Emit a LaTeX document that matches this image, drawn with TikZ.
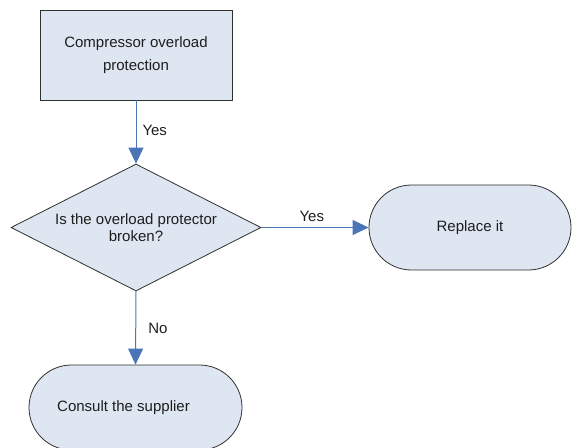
\documentclass[tikz,border=0pt]{standalone}
\usepackage{fontspec}
\setmainfont{Liberation Sans}
\usetikzlibrary{arrows.meta,shapes.geometric,shapes.misc}
\definecolor{boxfill}{HTML}{DEE6F1}
\definecolor{linkblue}{HTML}{4A76B8}
\definecolor{edge}{HTML}{303030}
\definecolor{txt}{HTML}{1E1E1E}
\tikzset{
  shapebase/.style={draw=edge, line width=0.8pt, fill=boxfill, text=txt, inner sep=0pt, align=center},
  procbox/.style={shapebase, rectangle, minimum width=192pt, minimum height=90pt},
  decbox/.style={shapebase, diamond, aspect=2, minimum width=250pt, minimum height=127pt},
  termbox/.style={shapebase, rounded rectangle, minimum height=85pt},
  link/.style={draw=linkblue, line width=1pt, -{Triangle[width=15pt,length=16pt]}},
  lbl/.style={text=txt, inner sep=0pt}
}
\begin{document}
\begin{tikzpicture}[x=1pt,y=-1pt,font=\fontsize{15}{22.5}\selectfont]
\useasboundingbox (0,0) rectangle (572,447);
\node[procbox] (proc) at (136,55) {Compressor overload\\protection};
\node[decbox, font=\fontsize{15}{17.5}\selectfont] (dec) at (136,227.5) {Is the overload protector\\broken?};
\node[termbox, minimum width=202pt] (rep) at (470,227.5) {Replace it};
\node[termbox, minimum width=213pt] (con) at (135.5,407.5) {Consult the supplier\hspace*{24pt}};
\draw[link] (proc.south) -- (dec.north) node[lbl, pos=0.47, right=6pt] {Yes};
\draw[link] (dec.east) -- (rep.west) node[lbl, pos=0.47, above=5pt] {Yes};
\draw[link] (dec.south) -- (con.north) node[lbl, pos=0.5, right=12pt] {No};
\end{tikzpicture}
\end{document}
